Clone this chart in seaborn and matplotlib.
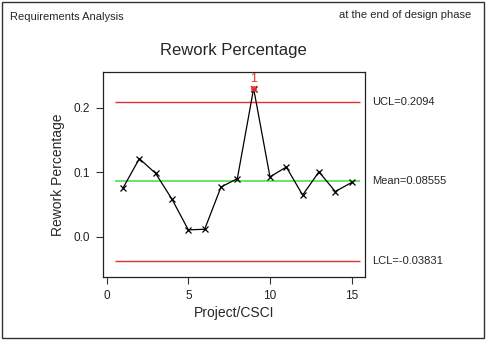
import matplotlib
matplotlib.use("Agg")
import pandas as pd
import matplotlib.pyplot as plt
import seaborn as sns
from matplotlib.patches import Rectangle

# ========== DATA ==========
projects = list(range(1, 16))
rework = [0.0755, 0.121, 0.098, 0.058, 0.0105, 0.0115, 0.077, 0.090,
          0.2297, 0.0927, 0.108, 0.0645, 0.1005, 0.070, 0.084]
ucl = 0.2094
mean = 0.08555
lcl = -0.03831
out_point = 9          # point flagged by test 1
x_ticks = [0, 5, 10, 15]
y_ticks = [0.0, 0.1, 0.2]

df = pd.DataFrame({"Project/CSCI": projects, "Rework Percentage": rework})

# ========== PLOT ==========
sns.set_style("white")
plt.rcParams["font.family"] = ["Liberation Sans", "DejaVu Sans"]

fig = plt.figure(figsize=(4.9, 3.44), dpi=100)
ax = fig.add_axes([0.2096, 0.1939, 0.5353, 0.5977])

# control limits
ax.hlines([ucl, lcl], 0.5, 15.5, colors="#e03030", linewidth=1)
ax.hlines(mean, 0.5, 15.5, colors="#50e050", linewidth=1.2)

sns.lineplot(x="Project/CSCI", y="Rework Percentage", data=df, ax=ax,
             color="black", linewidth=0.9, marker="x", markersize=4,
             markeredgecolor="black", markeredgewidth=0.9)

# flagged point
ax.plot(out_point, rework[out_point - 1], marker="x", color="#e03030",
        markersize=4.5, markeredgewidth=1.1)
ax.plot(out_point, rework[out_point - 1], marker="+", color="#e03030",
        markersize=4.5, markeredgewidth=1.1)
ax.text(out_point, rework[out_point - 1] + 0.006, "1", color="#e03030",
        ha="center", va="bottom", fontsize=9)

# limit labels
tr = ax.get_yaxis_transform()
for val, lab in [(ucl, "UCL=0.2094"), (mean, "Mean=0.08555"), (lcl, "LCL=-0.03831")]:
    ax.text(1.026, val, lab, transform=tr, ha="left", va="center", fontsize=8)

ax.set_xlim(-0.245, 15.82)
ax.set_ylim(-0.063, 0.2558)
ax.set_xticks(x_ticks)
ax.set_yticks(y_ticks)
ax.set_yticklabels([f"{v:.1f}" for v in y_ticks])
ax.tick_params(bottom=True, left=True, direction="out", length=5, width=0.8,
               pad=4, labelsize=8.5, colors="#333333", labelcolor="#222222")
for s in ax.spines.values():
    s.set_color("#222222")
    s.set_linewidth(0.9)

ax.set_xlabel("Project/CSCI", fontsize=10, labelpad=3)
ax.set_ylabel("Rework Percentage", fontsize=10, labelpad=6)
ax.set_title("Rework Percentage", fontsize=12, pad=12)

fig.text(10 / 490, 1 - 17 / 344, "Requirements Analysis", fontsize=8, va="center", ha="left")
fig.text(471 / 490, 1 - 15 / 344, "at the end of design phase", fontsize=8, va="center", ha="right")

# outer frame
fig.patches.append(Rectangle((2 / 490, 6 / 344), 482 / 490, 336 / 344,
                             transform=fig.transFigure, fill=False,
                             edgecolor="#333333", linewidth=1))

plt.savefig("out.png", dpi=100)
